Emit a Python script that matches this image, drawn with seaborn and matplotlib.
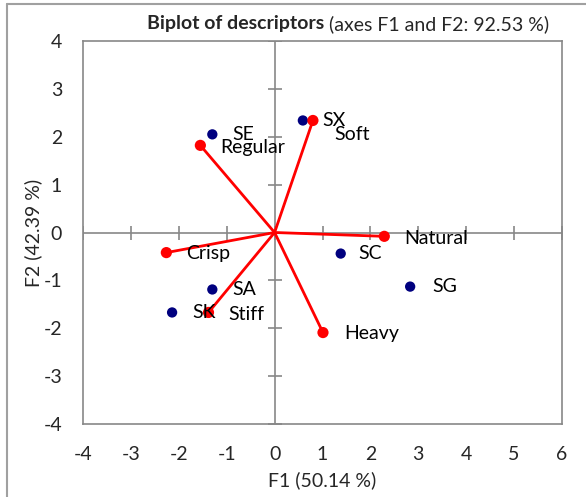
import matplotlib
matplotlib.use("Agg")
import matplotlib.pyplot as plt
import seaborn as sns
import pandas as pd
from matplotlib.lines import Line2D

# ---- data ----
obs_names = ["SE", "SX", "SC", "SG", "SA", "SK"]
obs_f1 = [-1.30, 0.59, 1.38, 2.83, -1.30, -2.14]
obs_f2 = [2.05, 2.34, -0.44, -1.13, -1.19, -1.67]

var_names = ["Regular", "Soft", "Natural", "Crisp", "Stiff", "Heavy"]
var_f1 = [-1.55, 0.80, 2.29, -2.26, -1.38, 1.01]
var_f2 = [1.82, 2.34, -0.08, -0.42, -1.67, -2.09]

x_ticks = [-4, -3, -2, -1, 0, 1, 2, 3, 4, 5, 6]
y_ticks = [-4, -3, -2, -1, 0, 1, 2, 3, 4]

title_bold = "Biplot of descriptors"
title_rest = " (axes F1 and F2: 92.53 %)"
x_label = "F1 (50.14 %)"
y_label = "F2 (42.39 %)"

# label offsets in pixels (dx, dy) – styling only
obs_off = {"SE": (20, 0), "SX": (19, 0), "SC": (18, 0), "SG": (22, 0), "SA": (20, 0), "SK": (20, 0)}
var_off = {"Regular": (20, -2), "Soft": (21, -14), "Natural": (20, -2), "Crisp": (20, -1),
           "Stiff": (20, -2), "Heavy": (21, -1)}

sns.set_style("white")
plt.rcParams["font.family"] = ["Lato", "DejaVu Sans"]

W, H = 586, 497
FS = 14
fig = plt.figure(figsize=(W / 100, H / 100), dpi=100)
ax = fig.add_axes([83 / W, 1 - 424 / H, (562 - 83) / W, (424 - 41) / H])

grey = "#878787"
navy = "#00007F"
red = "#FF0000"

ax.set_xlim(-4, 6)
ax.set_ylim(-4, 4)

# zero axes with crossing ticks
ax.axhline(0, color=grey, lw=1.2, zorder=1)
ax.axvline(0, color=grey, lw=1.2, zorder=1)
ax.plot(x_ticks, [0] * len(x_ticks), ls="none", marker="|", ms=10, mew=1.2, color=grey, zorder=1)
ax.plot([0] * len(y_ticks), y_ticks, ls="none", marker="_", ms=10, mew=1.2, color=grey, zorder=1)

# vectors
for x, y in zip(var_f1, var_f2):
    ax.plot([0, x], [0, y], color=red, lw=2, zorder=2)

obs_df = pd.DataFrame({"F1": obs_f1, "F2": obs_f2, "name": obs_names})
var_df = pd.DataFrame({"F1": var_f1, "F2": var_f2, "name": var_names})
sns.scatterplot(data=obs_df, x="F1", y="F2", color=navy, s=55, edgecolor="none", ax=ax, zorder=3)
sns.scatterplot(data=var_df, x="F1", y="F2", color=red, s=65, edgecolor="none", ax=ax, zorder=3)

for n, x, y in zip(obs_names, obs_f1, obs_f2):
    dx, dy = obs_off[n]
    ax.annotate(n, (x, y), xytext=(dx * 0.72, dy * 0.72), textcoords="offset points",
                ha="left", va="center", fontsize=FS, color="black", zorder=4)
for n, x, y in zip(var_names, var_f1, var_f2):
    dx, dy = var_off[n]
    ax.annotate(n, (x, y), xytext=(dx * 0.72, dy * 0.72), textcoords="offset points",
                ha="left", va="center", fontsize=FS, color="black", zorder=4)

ax.set_xticks(x_ticks)
ax.set_yticks(y_ticks)
ax.set_xticklabels([str(t) for t in x_ticks], fontsize=FS)
ax.set_yticklabels([str(t) for t in y_ticks], fontsize=FS)
ax.tick_params(axis="x", length=0, pad=16)
ax.tick_params(axis="y", length=0, pad=15)
for s in ax.spines.values():
    s.set_color(grey)
    s.set_linewidth(1.2)
ax.set_xlabel(x_label, fontsize=FS, labelpad=6)
ax.set_ylabel(y_label, fontsize=FS, labelpad=1)

# title in two styles
renderer = fig.canvas.get_renderer()
t1 = fig.text(147 / W, 1 - 24 / H, title_bold, fontsize=FS, fontweight="bold", ha="left", va="center")
bb = t1.get_window_extent(renderer=renderer)
fig.text(bb.x1 / W, 1 - 24 / H, title_rest, fontsize=FS, ha="left", va="center")

# outer frame (left and top edges visible)
fig.add_artist(Line2D([7 / W, 7 / W], [0, 1 - 4 / H], color="#a0a0a0", lw=1.5, transform=fig.transFigure))
fig.add_artist(Line2D([7 / W, 1], [1 - 4 / H, 1 - 4 / H], color="#a0a0a0", lw=1.5, transform=fig.transFigure))

fig.savefig("out.png", dpi=100)
